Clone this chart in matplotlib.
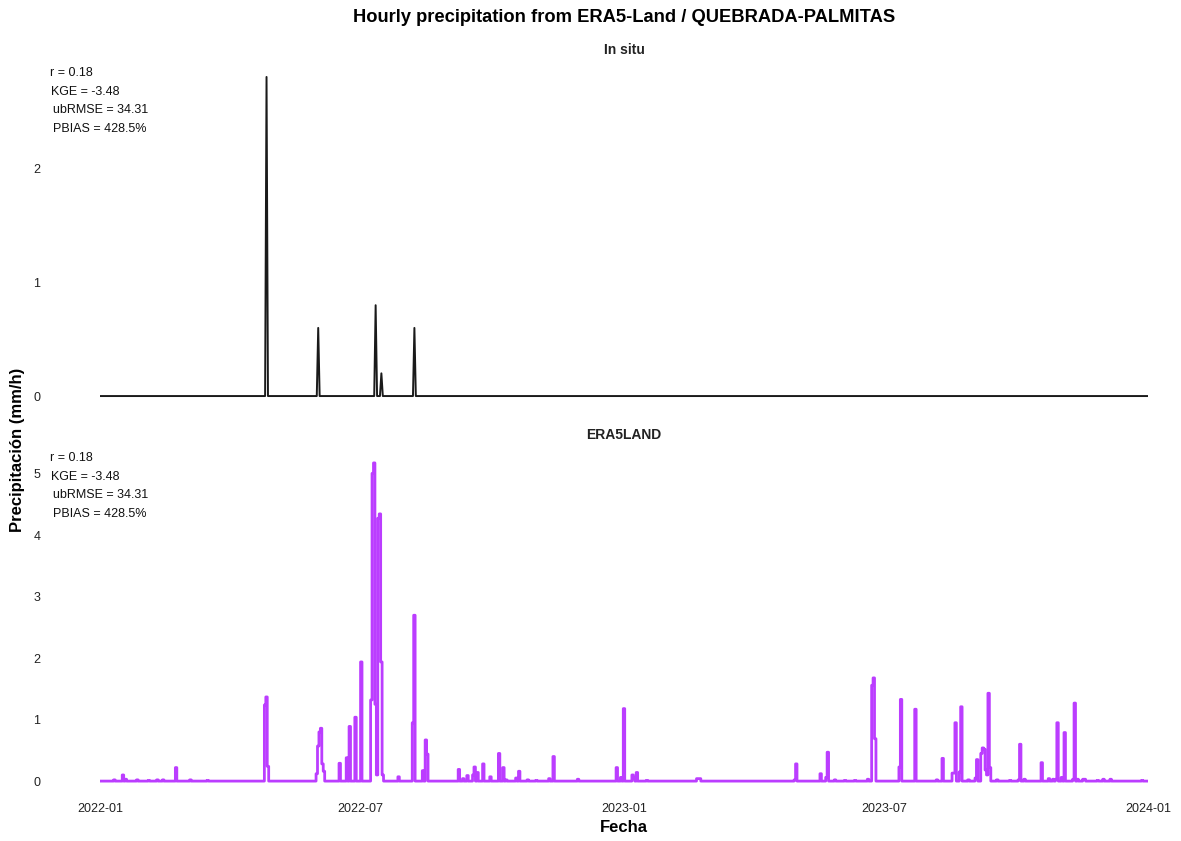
import matplotlib
matplotlib.use("Agg")
import matplotlib.pyplot as plt
import matplotlib.dates as mdates
import pandas as pd
import numpy as np

plt.rcParams['font.family'] = ['Liberation Sans', 'DejaVu Sans']

# ---------------- data ----------------
start_date = "2022-01-01"
end_date = "2024-01-01"

insitu_dates = ["2022-04-27", "2022-06-02", "2022-07-12", "2022-07-16", "2022-08-08"]
insitu_values = [2.81, 0.60, 0.80, 0.20, 0.60]

era5_dates = [
    "2022-01-11", "2022-01-17", "2022-01-19", "2022-01-27", "2022-02-04", "2022-02-10",
    "2022-02-14", "2022-02-23", "2022-03-05", "2022-03-17",
    "2022-04-26", "2022-04-27", "2022-04-28",
    "2022-06-01", "2022-06-02", "2022-06-03", "2022-06-04", "2022-06-05", "2022-06-06",
    "2022-06-17", "2022-06-22", "2022-06-24", "2022-06-28", "2022-07-02",
    "2022-07-09", "2022-07-10", "2022-07-11", "2022-07-12", "2022-07-13",
    "2022-07-14", "2022-07-15", "2022-07-16", "2022-07-17", "2022-07-28",
    "2022-08-07", "2022-08-08", "2022-08-14", "2022-08-16", "2022-08-17",
    "2022-09-08", "2022-09-11", "2022-09-14", "2022-09-18", "2022-09-19", "2022-09-21",
    "2022-09-25", "2022-09-30", "2022-10-06", "2022-10-09", "2022-10-11", "2022-10-18",
    "2022-10-20", "2022-10-26", "2022-11-01", "2022-11-10", "2022-11-13", "2022-11-30",
    "2022-12-27", "2022-12-30", "2023-01-01", "2023-01-07", "2023-01-08", "2023-01-10",
    "2023-01-17", "2023-02-21", "2023-02-22", "2023-02-23",
    "2023-04-30", "2023-05-01", "2023-05-18", "2023-05-22", "2023-05-23", "2023-05-28",
    "2023-06-04", "2023-06-11", "2023-06-20", "2023-06-23", "2023-06-24", "2023-06-25",
    "2023-07-12", "2023-07-13", "2023-07-23", "2023-08-07", "2023-08-11",
    "2023-08-18", "2023-08-19", "2023-08-20", "2023-08-23", "2023-08-24", "2023-08-29",
    "2023-09-03", "2023-09-04", "2023-09-07", "2023-09-08", "2023-09-09", "2023-09-10",
    "2023-09-11", "2023-09-12", "2023-09-13", "2023-09-18", "2023-09-27",
    "2023-10-03", "2023-10-04", "2023-10-07", "2023-10-19", "2023-10-24", "2023-10-27",
    "2023-10-29", "2023-10-30", "2023-11-02", "2023-11-04", "2023-11-10", "2023-11-11",
    "2023-11-13", "2023-11-17", "2023-11-18", "2023-11-27", "2023-12-01", "2023-12-06",
    "2023-12-28",
]
era5_values = [
    0.02, 0.10, 0.03, 0.02, 0.01, 0.02,
    0.02, 0.22, 0.02, 0.01,
    1.24, 1.37, 0.24,
    0.12, 0.57, 0.80, 0.86, 0.28, 0.16,
    0.29, 0.38, 0.89, 1.04, 1.94,
    1.32, 5.01, 5.18, 1.25, 0.10,
    4.28, 4.35, 1.94, 0.10, 0.07,
    0.95, 2.70, 0.17, 0.67, 0.44,
    0.19, 0.04, 0.09, 0.10, 0.23, 0.14,
    0.28, 0.07, 0.45, 0.22, 0.02, 0.05,
    0.16, 0.02, 0.01, 0.04, 0.40, 0.03,
    0.22, 0.06, 1.18, 0.10, 0.05, 0.14,
    0.01, 0.04, 0.04, 0.04,
    0.02, 0.28, 0.12, 0.06, 0.47, 0.02,
    0.01, 0.01, 0.03, 1.56, 1.68, 0.69,
    0.23, 1.33, 1.17, 0.02, 0.37,
    0.13, 0.13, 0.95, 0.15, 1.21, 0.02,
    0.05, 0.35, 0.45, 0.54, 0.52, 0.18,
    0.10, 1.43, 0.22, 0.02, 0.01,
    0.02, 0.60, 0.03, 0.30, 0.04, 0.03,
    0.03, 0.95, 0.06, 0.79, 0.03, 1.27,
    0.03, 0.03, 0.03, 0.01, 0.03, 0.03,
    0.01,
]

stats_lines = ["r = 0.18", "KGE = -3.48", "ubRMSE = 34.31", "PBIAS = 428.5%"]

# ---------------- build series ----------------
days = pd.date_range(start_date, end_date, freq="D")
insitu = pd.Series(0.0, index=days)
insitu.loc[pd.to_datetime(insitu_dates)] = insitu_values
era5 = pd.Series(0.0, index=days)
era5.loc[pd.to_datetime(era5_dates)] = era5_values

# ---------------- figure ----------------
W, H = 1181, 841
fig = plt.figure(figsize=(W / 100, H / 100), dpi=100)

def fx(px):
    return px / W

def fy(py):
    return 1 - py / H

left, right = fx(100), fx(1148)
ax1 = fig.add_axes([left, fy(412), right - left, fy(61) - fy(412)])
ax2 = fig.add_axes([left, fy(797), right - left, fy(447) - fy(797)], sharex=ax1)

ax1.plot(insitu.index, insitu.values, color="#1a1a1a", lw=1.4)
ax2.plot(era5.index, era5.values, color="#BB3DFF", lw=2.0, drawstyle="steps-mid")

for ax, ymax in ((ax1, insitu.max()), (ax2, era5.max())):
    ax.set_ylim(-0.05 * ymax, ymax * 1.05)
    for s in ax.spines.values():
        s.set_visible(False)
    ax.tick_params(axis="both", length=0, labelsize=9, colors="#222222")
    ax.tick_params(axis="y", pad=43)
    ax.tick_params(axis="x", pad=4)

ax1.set_yticks([0, 1, 2])
ax2.set_yticks([0, 1, 2, 3, 4, 5])
ax1.set_xlim(pd.Timestamp(start_date), pd.Timestamp(end_date))
ax2.xaxis.set_major_locator(mdates.MonthLocator(bymonth=[1, 7]))
ax2.xaxis.set_major_formatter(mdates.DateFormatter("%Y-%m"))
plt.setp(ax1.get_xticklabels(), visible=False)

# titles
fig.text(fx(624), fy(18), "Hourly precipitation from ERA5-Land / QUEBRADA-PALMITAS",
         ha="center", va="center", fontsize=13.2, fontweight="bold")
fig.text(fx(624), fy(50), "In situ", ha="center", va="center", fontsize=10, fontweight="bold",
         color="#222222")
fig.text(fx(624), fy(435), "ERA5LAND", ha="center", va="center", fontsize=10, fontweight="bold",
         color="#222222")
fig.text(fx(624), fy(828), "Fecha", ha="center", va="center", fontsize=12, fontweight="bold")
fig.text(fx(18), fy(450), "Precipitación (mm/h)", ha="center", va="center", rotation=90,
         fontsize=12, fontweight="bold")

# stats annotations
xs = [50, 51, 53, 53]
for y0 in (73, 458):
    for i, (line, x0) in enumerate(zip(stats_lines, xs)):
        fig.text(fx(x0), fy(y0 + i * 18.7), line, ha="left", va="center", fontsize=9,
                 color="#111111")

fig.savefig("out.png", dpi=100, facecolor="white")
